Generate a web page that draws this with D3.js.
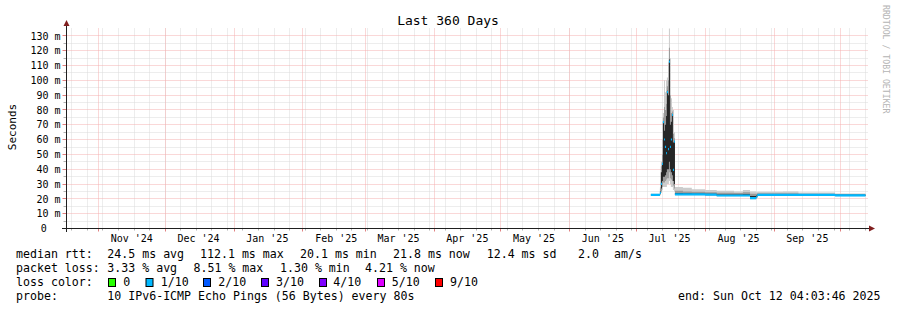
<!DOCTYPE html>
<html><head><meta charset="utf-8">
<script src="https://cdn.jsdelivr.net/npm/d3@7"></script>
<style>
body{margin:0;background:#fff}
svg{display:block}
text{font-family:"DejaVu Sans Mono",monospace;fill:#000}
</style>
</head><body>
<svg id="c" width="897" height="310"></svg>
<script>
// ---------- data ----------
const chartTitle = "Last 360 Days";
const yAxisTitle = "Seconds";
const sideText = "RRDTOOL / TOBI OETIKER";
const endTime = "2025-10-12T04:03:46Z";
const rangeDays = 360;
const yMaxMs = 135;
const yTickMs = [0,10,20,30,40,50,60,70,80,90,100,110,120,130];
const yTickLabels = ["0","10 m","20 m","30 m","40 m","50 m","60 m","70 m","80 m","90 m","100 m","110 m","120 m","130 m"];
const xLabelMonths = ["2024-11","2024-12","2025-01","2025-02","2025-03","2025-04","2025-05","2025-06","2025-07","2025-08","2025-09"];
const xLabelTexts = ["Nov '24","Dec '24","Jan '25","Feb '25","Mar '25","Apr '25","May '25","Jun '25","Jul '25","Aug '25","Sep '25"];

const sampleTimes = ["2025-07-07T14:00","2025-07-11T16:00","2025-07-12T02:00","2025-07-12T14:00","2025-07-13T00:00",
  "2025-07-13T12:00","2025-07-13T22:00","2025-07-14T10:00","2025-07-14T19:00","2025-07-15T07:00","2025-07-15T17:00",
  "2025-07-16T04:00","2025-07-16T14:00","2025-07-17T02:00","2025-07-17T12:00","2025-07-18T00:00","2025-07-18T10:00",
  "2025-07-22T00:00","2025-07-26T00:00","2025-08-01T00:00","2025-08-06T05:00","2025-08-14T00:00","2025-08-18T00:00",
  "2025-08-21T05:00","2025-08-24T00:00","2025-08-24T12:00","2025-09-05T00:00","2025-09-12T00:00","2025-09-28T12:00",
  "2025-10-12T04:00"];
const medianMs  = [22.6,24.0,30.0,43.5,71.7,60.0,55.0,50.8,92.0,53.5,112.6,55.0,60.0,76.6,39.5,58.6,23.0,23.0,23.0,22.8,22.2,22.2,22.2,20.4,21.5,22.6,22.6,22.6,22.3,22.3];
const outerLoMs = [22.2,22.5,24.0,26.0,28.0,28.0,28.0,28.0,30.0,30.0,32.0,30.0,28.0,28.0,26.0,25.0,22.5,22.5,22.5,22.3,21.8,21.8,21.8,19.8,20.5,22.0,22.0,22.0,21.8,21.8];
const outerHiMs = [23.4,28.0,45.0,60.0,78.0,100.0,92.0,100.0,102.0,112.0,135.0,115.0,88.0,82.0,80.0,65.0,28.0,27.5,26.5,26.0,25.5,25.0,26.0,25.0,24.5,24.8,25.0,24.3,23.7,23.7];
const midLoMs   = [22.3,23.0,25.0,28.0,31.0,31.0,32.0,33.0,34.0,34.0,38.0,34.0,33.0,32.0,29.0,27.0,22.7,22.7,22.7,22.5,22.0,22.0,22.0,20.0,21.0,22.2,22.2,22.2,22.0,22.0];
const midHiMs   = [23.0,27.0,42.0,50.0,75.0,82.0,80.0,84.0,96.0,100.0,122.0,90.0,78.0,79.0,64.0,61.0,25.5,25.0,24.8,24.5,24.2,24.0,24.5,23.5,23.5,23.8,23.8,23.5,23.2,23.2];
const innerLoMs = [22.4,23.5,27.0,32.0,35.0,35.0,36.0,38.0,40.0,40.0,45.0,40.0,38.0,36.0,32.0,30.0,22.8,22.8,22.8,22.6,22.1,22.1,22.1,20.2,21.2,22.4,22.4,22.4,22.1,22.1];
const innerHiMs = [22.8,25.0,38.0,44.0,72.0,66.0,70.0,76.0,93.0,90.0,114.0,70.0,72.0,77.0,58.0,59.0,24.0,23.8,23.6,23.4,23.0,23.0,23.2,22.0,22.5,23.0,23.0,23.0,22.7,22.7];

const lossLabels = ["0","1/10","2/10","3/10","4/10","5/10","9/10"];
const lossColors = ["#26ff00","#00b8ff","#0059ff","#5e00ff","#7e00ff","#dd00ff","#ff0000"];
const medianColor = "#00b8ff";

const legendRtt  = ["median rtt:","24.5 ms avg","112.1 ms max","20.1 ms min","21.8 ms now","12.4 ms sd","2.0","am/s"];
const legendLoss = ["packet loss:","3.33 % avg","8.51 % max","1.30 % min","4.21 % now"];
const legendLossTitle = "loss color:";
const legendProbe = ["probe:","10 IPv6-ICMP Echo Pings (56 Bytes) every 80s"];
const legendEnd = "end: Sun Oct 12 04:03:46 2025";

// ---------- layout ----------
const X0 = 65.5, X1 = 865.5, YB = 228.5, YT = 28.5;
const end = new Date(endTime), start = new Date(end.getTime() - rangeDays*864e5);
const x = d3.scaleUtc().domain([start, end]).range([X0, X1]);
const y = d3.scaleLinear().domain([0, yMaxMs]).range([YB, YT]);
const cp = v => Math.floor(v) + 0.5;

const svg = d3.select("#c");
svg.append("rect").attr("width",897).attr("height",310).attr("fill","#fff");

const minorCol = "#dadada", majorCol = "#f5b0b0";
const g = svg.append("g");

// minor horizontal grid
for (let v = 5; v < yMaxMs; v += 5) {
  if (v % 10 === 0) continue;
  const yy = cp(y(v));
  g.append("line").attr("x1",X0+1).attr("x2",X1+2).attr("y1",yy).attr("y2",yy)
    .attr("stroke",minorCol).attr("stroke-dasharray","1,1");
  g.append("line").attr("x1",X0-2).attr("x2",X0+1).attr("y1",yy).attr("y2",yy).attr("stroke","#b0b0b0");
}
// minor vertical grid (weeks)
const weeks = d3.utcSunday.range(start, end);
weeks.forEach(d => {
  const xx = cp(x(d));
  g.append("line").attr("x1",xx).attr("x2",xx).attr("y1",YT).attr("y2",YB)
    .attr("stroke",minorCol).attr("stroke-dasharray","1,1");
  g.append("line").attr("x1",xx).attr("x2",xx).attr("y1",YB).attr("y2",YB+2).attr("stroke","#b0b0b0");
});
// major horizontal grid
yTickMs.forEach(v => {
  if (v === 0) return;
  const yy = cp(y(v));
  g.append("line").attr("x1",X0+1).attr("x2",X1+2).attr("y1",yy).attr("y2",yy)
    .attr("stroke",majorCol).attr("stroke-dasharray","1,1");
  g.append("line").attr("x1",X0-3).attr("x2",X0+1).attr("y1",yy).attr("y2",yy).attr("stroke","#e08080");
});
// major vertical grid (months)
const months = d3.utcMonth.range(start, end);
months.forEach(d => {
  const xx = cp(x(d));
  g.append("line").attr("x1",xx).attr("x2",xx).attr("y1",YT).attr("y2",YB)
    .attr("stroke",majorCol).attr("stroke-dasharray","1,1");
  g.append("line").attr("x1",xx).attr("x2",xx).attr("y1",YB).attr("y2",YB+3).attr("stroke","#e08080");
});

// ---------- smoke + median ----------
const rows = sampleTimes.map((t,i) => ({
  t: new Date(t + "Z"), med: medianMs[i],
  oLo: outerLoMs[i], oHi: outerHiMs[i], mLo: midLoMs[i], mHi: midHiMs[i],
  iLo: innerLoMs[i], iHi: innerHiMs[i]
}));
const band = (lo, hi) => d3.area().curve(d3.curveStepAfter)
  .x(d => x(d.t)).y0(d => y(d[lo])).y1(d => y(d[hi]));
const plot = svg.append("g");
plot.append("path").datum(rows).attr("d", band("oLo","oHi")).attr("fill","#cccccc");
plot.append("path").datum(rows).attr("d", band("mLo","mHi")).attr("fill","#9a9a9a");
plot.append("path").datum(rows).attr("d", band("iLo","iHi")).attr("fill","#262626");
plot.append("path").datum(rows)
  .attr("d", d3.area().curve(d3.curveStepAfter).x(d => x(d.t))
     .y0(d => y(d.med) + 1).y1(d => y(d.med) - 1.2))
  .attr("fill", medianColor);

// ---------- axes ----------
const axisCol = "#1f1f1f", arrowCol = "#801f1f";
svg.append("line").attr("x1",62).attr("x2",871).attr("y1",YB).attr("y2",YB).attr("stroke",axisCol);
svg.append("line").attr("x1",66.5).attr("x2",66.5).attr("y1",232).attr("y2",24).attr("stroke",axisCol);
svg.append("path").attr("d","M869,225.5 L875,228.5 L869,231.5 Z").attr("fill",arrowCol);
svg.append("path").attr("d","M63.5,26 L66.5,20 L69.5,26 Z").attr("fill",arrowCol);

// y tick labels
yTickMs.forEach((v,i) => {
  svg.append("text").attr("x", v === 0 ? 46.8 : 60.5).attr("y", y(v) + 3.7)
    .attr("text-anchor","end").attr("font-size","10px").text(yTickLabels[i]);
});
// x labels (centered at month start + 15 days)
xLabelMonths.forEach((m,i) => {
  const d = new Date(m + "-01T00:00:00Z");
  svg.append("text").attr("x", x(d3.utcDay.offset(d, 15)))
    .attr("y", 241.5).attr("text-anchor","middle").attr("font-size","10px").text(xLabelTexts[i]);
});

// titles
svg.append("text").attr("x",448).attr("y",24.5).attr("text-anchor","middle")
  .attr("font-size","13px").text(chartTitle);
svg.append("text").attr("transform","translate(15.5,127) rotate(-90)").attr("text-anchor","middle")
  .attr("font-size","11px").text(yAxisTitle);
svg.append("text").attr("transform","translate(883,5) rotate(90)").attr("text-anchor","start")
  .attr("font-size","8.2px").style("fill","#b4b4b4").text(sideText);

// ---------- legend ----------
const lf = "11.6px";
const rowY = [258.3, 272.3, 286.3, 300.3];
const rttX = [16,107.3,200,300,393,486.7,578,614];
legendRtt.forEach((s,i) => svg.append("text").attr("x",rttX[i]).attr("y",rowY[0]).attr("font-size",lf).text(s));
const lossX = [16,107.3,193.5,280,365];
legendLoss.forEach((s,i) => svg.append("text").attr("x",lossX[i]).attr("y",rowY[1]).attr("font-size",lf).text(s));
svg.append("text").attr("x",16).attr("y",rowY[2]).attr("font-size",lf).text(legendLossTitle);
const boxX = [108.5,146,203.5,261.5,319.5,377.5,435.5];
const labX = [123.3,160.7,218.3,276,333.3,391.7,450];
lossLabels.forEach((s,i) => {
  svg.append("rect").attr("x",boxX[i]).attr("y",278.5).attr("width",7).attr("height",8)
    .attr("fill",lossColors[i]).attr("stroke","#000");
  svg.append("text").attr("x",labX[i]).attr("y",rowY[2]).attr("font-size",lf).text(s);
});
svg.append("text").attr("x",16).attr("y",rowY[3]).attr("font-size",lf).text(legendProbe[0]);
svg.append("text").attr("x",107.3).attr("y",rowY[3]).attr("font-size",lf).text(legendProbe[1]);
svg.append("text").attr("x",880.5).attr("y",rowY[3]).attr("text-anchor","end").attr("font-size",lf).text(legendEnd);
</script>
</body></html>
